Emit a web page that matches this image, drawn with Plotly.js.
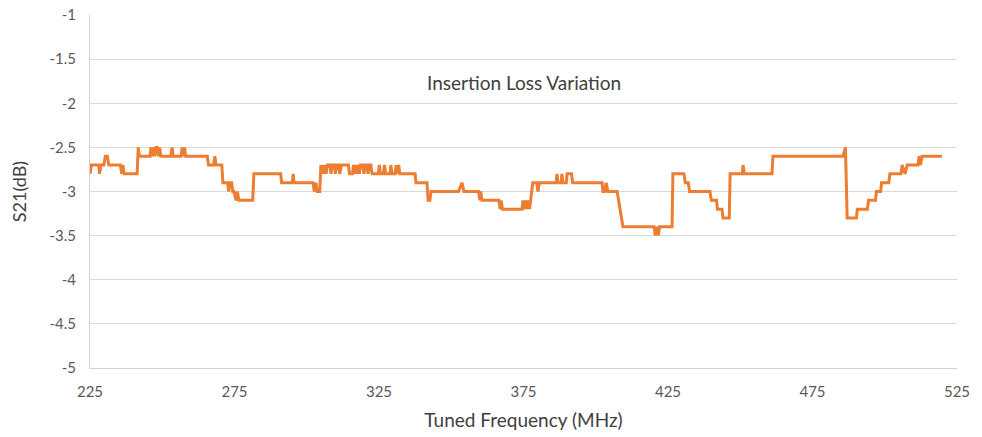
<!DOCTYPE html>
<html>
<head>
<meta charset="utf-8">
<script src="https://cdn.plot.ly/plotly-3.0.1.min.js"></script>
<style>html,body{margin:0;padding:0;background:#fff;}#chart{width:982px;height:437px;}</style>
</head>
<body>
<div id="chart"></div>
<script>
const freqMHz = [
225,225.5,228,228.3,228.8,229.8,230.3,231,231.5,235.5,236,236.4,236.8,241.3,241.7,242.1,245.8,246.1,246.5,247,247.4,247.8,248.3,248.7,249.1,249.5,253,253.4,253.8,256.5,256.9,257.3,257.7,258.1,265.6,266,267.8,268.2,268.6,270.6,271,272.6,273,273.4,274,274.4,274.8,275.5,276,276.5,281.3,281.7,291,291.3,295,295.3,295.6,302.2,302.6,303.2,303.6,304.5,304.9,
305.3,305.6,306,306.3,306.7,307.1,308,308.4,308.8,309.5,309.9,310.3,311,311.4,312,314.4,314.8,315.8,316.2,316.6,317,317.4,317.8,318.2,318.6,319.4,319.8,320.2,320.8,321.2,321.6,322.2,322.6,324.8,325.1,325.5,326.5,326.9,327.3,328.8,329.1,329.5,330.6,330.9,331.3,331.8,332.2,
337.5,337.8,341.6,342,342.6,343,352.5,353.7,354.4,359.5,359.9,360.2,360.6,366.5,366.9,367.3,367.7,374.5,374.8,375.2,375.9,376.3,376.7,377.1,378.2,379.6,380,380.5,386.3,386.6,386.9,388,388.3,388.6,389.8,390.1,391.6,392,
402.2,402.5,403.1,403.6,404.2,407.4,409.4,420.2,420.6,421.1,421.6,422.1,426.4,426.7,430.5,431,432,432.5,439.5,440,441.8,442.1,443.7,444,446.2,446.5,450.7,451,451.4,461,461.3,485.6,486.4,487,490.2,490.5,494,494.4,496.8,497.1,498.6,498.9,501.4,501.8,505.6,506,507,507.8,511.5,511.9,512.4,512.9,519.8
];
const s21dB = [
-2.8,-2.7,-2.7,-2.8,-2.7,-2.7,-2.6,-2.6,-2.7,-2.7,-2.8,-2.7,-2.8,-2.8,-2.5,-2.6,-2.6,-2.5,-2.6,-2.5,-2.6,-2.5,-2.5,-2.6,-2.5,-2.6,-2.6,-2.5,-2.6,-2.6,-2.5,-2.6,-2.5,-2.6,-2.6,-2.7,-2.7,-2.6,-2.7,-2.7,-2.9,-2.9,-3.0,-2.9,-2.9,-3.0,-3.0,-3.1,-3.0,-3.1,-3.1,-2.8,-2.8,-2.9,-2.9,-2.8,-2.9,-2.9,-3.0,-2.9,-3.0,-3.0,-2.7,
-2.8,-2.7,-2.8,-2.7,-2.8,-2.7,-2.7,-2.8,-2.7,-2.7,-2.8,-2.7,-2.7,-2.8,-2.7,-2.7,-2.8,-2.8,-2.7,-2.8,-2.7,-2.8,-2.7,-2.8,-2.7,-2.7,-2.8,-2.7,-2.7,-2.8,-2.7,-2.7,-2.8,-2.8,-2.7,-2.8,-2.8,-2.7,-2.8,-2.8,-2.7,-2.8,-2.8,-2.7,-2.8,-2.7,-2.8,
-2.8,-2.9,-2.9,-3.1,-3.1,-3.0,-3.0,-2.9,-3.0,-3.0,-3.1,-3.0,-3.1,-3.1,-3.2,-3.1,-3.2,-3.2,-3.1,-3.2,-3.1,-3.2,-3.1,-3.2,-2.9,-2.9,-3.0,-2.9,-2.9,-2.8,-2.9,-2.9,-2.8,-2.9,-2.9,-2.8,-2.8,-2.9,
-2.9,-3.0,-3.0,-2.9,-3.0,-3.0,-3.4,-3.4,-3.5,-3.4,-3.5,-3.4,-3.4,-2.8,-2.8,-2.9,-2.9,-3.0,-3.0,-3.1,-3.1,-3.2,-3.2,-3.3,-3.3,-2.8,-2.8,-2.7,-2.8,-2.8,-2.6,-2.6,-2.5,-3.3,-3.3,-3.2,-3.2,-3.1,-3.1,-3.0,-3.0,-2.9,-2.9,-2.8,-2.8,-2.7,-2.8,-2.7,-2.7,-2.6,-2.7,-2.6,-2.6
];
const xTicks = [225,275,325,375,425,475,525];
const yTicks = [-1,-1.5,-2,-2.5,-3,-3.5,-4,-4.5,-5];
const chartNote = "Insertion Loss Variation";
const xTitle = "Tuned Frequency (MHz)";
const yTitle = "S21(dB)";

const FONT = "Lato, 'Open Sans', sans-serif";
Plotly.newPlot('chart', [{
  x: freqMHz, y: s21dB, type: 'scatter', mode: 'lines',
  line: {color: '#ED7D31', width: 3}, hoverinfo: 'skip'
}], {
  width: 982, height: 437,
  margin: {l: 90, r: 25, t: 15, b: 69},
  paper_bgcolor: '#fff', plot_bgcolor: '#fff',
  showlegend: false,
  font: {family: FONT, color: '#595959', size: 15},
  xaxis: {
    range: [225, 525], tickvals: xTicks, ticktext: xTicks.map(String),
    showgrid: false, zeroline: false, showline: true, linecolor: '#d0d0d0', linewidth: 1,
    ticks: '', ticklen: 0, tickfont: {size: 15, color: '#595959', family: FONT}, ticklabelstandoff: 10,
    title: {text: xTitle, font: {size: 19, color: '#404040', family: FONT}, standoff: 14}
  },
  yaxis: {
    range: [-5, -1], tickvals: yTicks, ticktext: yTicks.map(String),
    showgrid: true, gridcolor: '#d9d9d9', gridwidth: 1, zeroline: false,
    showline: true, linecolor: '#d0d0d0', linewidth: 1,
    ticks: '', tickfont: {size: 15, color: '#595959', family: FONT}, ticklabelstandoff: 10,
    title: {text: yTitle, font: {size: 18, color: '#404040', family: FONT}, standoff: 18}
  },
  annotations: [{
    x: 375, y: -1.77, xref: 'x', yref: 'y', text: chartNote, showarrow: false,
    font: {size: 19, color: '#404040', family: FONT}
  }]
}, {displayModeBar: false, staticPlot: true});
</script>
</body>
</html>
